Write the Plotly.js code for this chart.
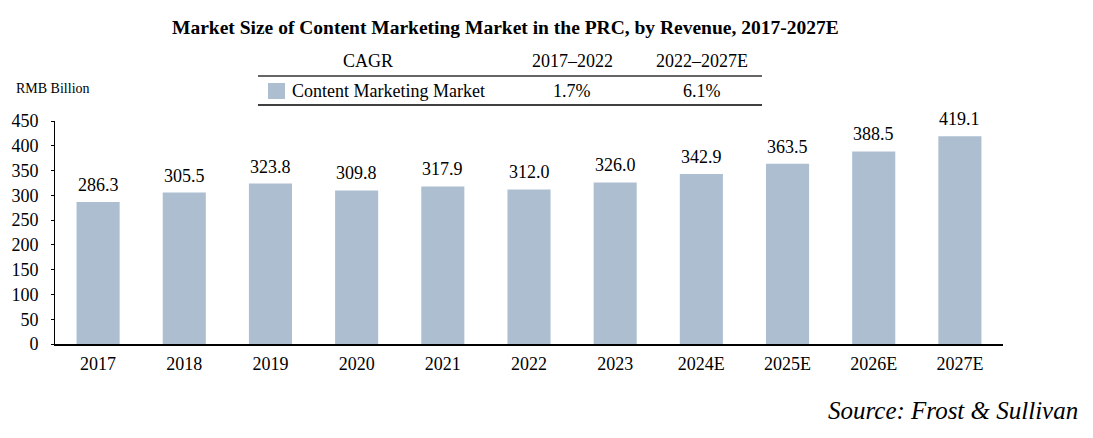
<!DOCTYPE html>
<html>
<head>
<meta charset="utf-8">
<script src="https://cdn.plot.ly/plotly-3.0.1.min.js"></script>
<style>html,body{margin:0;padding:0;background:#fff;}#chart{width:1093px;height:438px;}</style>
</head>
<body>
<div id="chart"></div>
<script>
const years = ['2017','2018','2019','2020','2021','2022','2023','2024E','2025E','2026E','2027E'];
const revenue = [286.3, 305.5, 323.8, 309.8, 317.9, 312.0, 326.0, 342.9, 363.5, 388.5, 419.1];
const cagrHeader = ['CAGR', '2017–2022', '2022–2027E'];
const cagrRow = ['Content Marketing Market', '1.7%', '6.1%'];
const yTicks = [0, 50, 100, 150, 200, 250, 300, 350, 400, 450];

const W = 1093, H = 438;
const L = 55, R = 1003, T = 121, B = 344;
const px = x => (x - L) / (R - L);
const py = y => (B - y) / (B - T);

const barColor = '#adbed1';
const serif = 'Liberation Serif, Times New Roman, serif';

const trace = {
  type: 'bar',
  x: years,
  y: revenue,
  marker: {color: barColor, line: {width: 0}},
  hoverinfo: 'skip'
};

// value labels: category axes take the category's serial number for annotations
const valueLabels = years.map((yr, i) => ({
  text: revenue[i].toFixed(1), xref: 'x', yref: 'y', x: i, y: revenue[i],
  xanchor: 'center', yanchor: 'bottom', yshift: 5, showarrow: false,
  font: {family: serif, size: 18, color: '#000'}
}));

const annotations = valueLabels.concat([
  {text: '<b>Market Size of Content Marketing Market in the PRC, by Revenue, 2017-2027E</b>',
   xref: 'paper', yref: 'paper', x: px(505), y: py(28), xanchor: 'center', yanchor: 'middle',
   showarrow: false, font: {family: serif, size: 19.5, color: '#000'}},
  {text: 'RMB Billion', xref: 'paper', yref: 'paper', x: px(14), y: py(88), xanchor: 'left', yanchor: 'middle',
   showarrow: false, font: {family: serif, size: 14, color: '#000'}},
  {text: cagrHeader[0], xref: 'paper', yref: 'paper', x: px(368), y: py(61), xanchor: 'center', yanchor: 'middle',
   showarrow: false, font: {family: serif, size: 18, color: '#000'}},
  {text: cagrHeader[1], xref: 'paper', yref: 'paper', x: px(572), y: py(61), xanchor: 'center', yanchor: 'middle',
   showarrow: false, font: {family: serif, size: 18, color: '#000'}},
  {text: cagrHeader[2], xref: 'paper', yref: 'paper', x: px(702), y: py(61), xanchor: 'center', yanchor: 'middle',
   showarrow: false, font: {family: serif, size: 18, color: '#000'}},
  {text: cagrRow[0], xref: 'paper', yref: 'paper', x: px(290), y: py(91), xanchor: 'left', yanchor: 'middle',
   showarrow: false, font: {family: serif, size: 18, color: '#000'}},
  {text: cagrRow[1], xref: 'paper', yref: 'paper', x: px(572), y: py(91), xanchor: 'center', yanchor: 'middle',
   showarrow: false, font: {family: serif, size: 18, color: '#000'}},
  {text: cagrRow[2], xref: 'paper', yref: 'paper', x: px(702), y: py(91), xanchor: 'center', yanchor: 'middle',
   showarrow: false, font: {family: serif, size: 18, color: '#000'}},
  {text: '<i>Source: Frost &amp; Sullivan</i>', xref: 'paper', yref: 'paper', x: px(1080), y: py(410), xanchor: 'right', yanchor: 'middle',
   showarrow: false, font: {family: serif, size: 25, color: '#000'}}
]);

const shapes = [
  {type: 'line', xref: 'paper', yref: 'paper', x0: px(258), x1: px(762), y0: py(76), y1: py(76),
   line: {color: '#333', width: 1.5}},
  {type: 'line', xref: 'paper', yref: 'paper', x0: px(258), x1: px(762), y0: py(105), y1: py(105),
   line: {color: '#000', width: 1.5}},
  {type: 'rect', xref: 'paper', yref: 'paper', x0: px(268), x1: px(285), y0: py(83), y1: py(99),
   fillcolor: barColor, line: {width: 0}}
];

const layout = {
  width: W, height: H,
  margin: {l: L, r: W - R, t: T, b: H - B, pad: 0},
  paper_bgcolor: '#fff', plot_bgcolor: '#fff',
  showlegend: false,
  bargap: 0.5,
  xaxis: {
    type: 'category', categoryorder: 'array', categoryarray: years,
    showline: true, linecolor: '#000', linewidth: 1.5,
    ticks: '', showgrid: false, zeroline: false,
    tickfont: {family: serif, size: 18, color: '#000'},
    ticklabelstandoff: 3
  },
  yaxis: {
    range: [0, 450], tickvals: yTicks, ticktext: yTicks.map(String),
    showline: true, linecolor: '#000', linewidth: 1,
    ticks: 'outside', ticklen: 3, tickcolor: '#000', tickwidth: 1,
    showgrid: false, zeroline: false,
    tickfont: {family: serif, size: 18, color: '#000'},
    ticklabelstandoff: 9
  },
  annotations: annotations,
  shapes: shapes
};

Plotly.newPlot('chart', [trace], layout, {displayModeBar: false, staticPlot: true});
</script>
</body>
</html>
